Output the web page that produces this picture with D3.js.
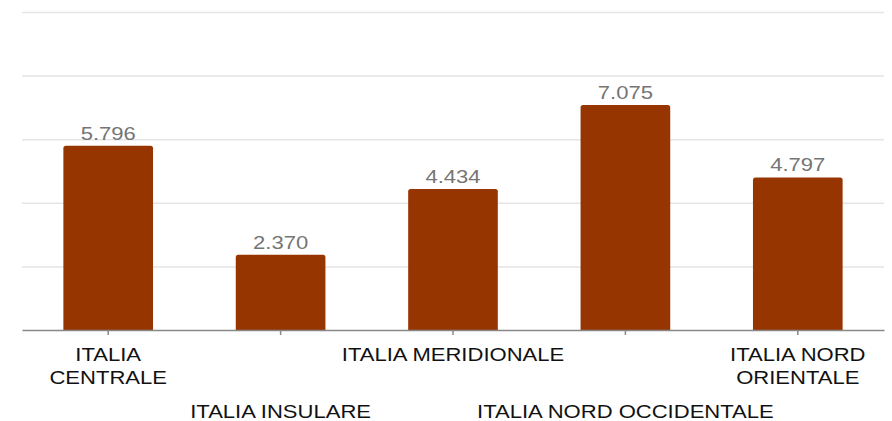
<!DOCTYPE html>
<html>
<head>
<meta charset="utf-8">
<script src="https://cdn.jsdelivr.net/npm/d3@7"></script>
<style>
  body { margin: 0; background: #fff; }
  .grid line { stroke: #e5e5e5; stroke-width: 1.5; }
  .grid path { display: none; }
  text { font-family: "Liberation Sans", Arial, sans-serif; }
</style>
</head>
<body>
<div class="chart"></div>
<script>
const categories = ["ITALIA CENTRALE", "ITALIA INSULARE", "ITALIA MERIDIONALE", "ITALIA NORD OCCIDENTALE", "ITALIA NORD ORIENTALE"];
const labelLines = [["ITALIA", "CENTRALE"], ["ITALIA INSULARE"], ["ITALIA MERIDIONALE"], ["ITALIA NORD OCCIDENTALE"], ["ITALIA NORD", "ORIENTALE"]];
const values = [5.796, 2.370, 4.434, 7.075, 4.797];
const valueLabels = ["5.796", "2.370", "4.434", "7.075", "4.797"];
const yTicks = [0, 2, 4, 6, 8, 10];

const W = 892, H = 421;
const margin = { top: 12, right: 8, bottom: 91, left: 22 };
const width = W - margin.left - margin.right;
const height = H - margin.top - margin.bottom;
const stretch = 1.16; // text in the original is drawn a bit wider

const svg = d3.select(".chart").append("svg")
  .attr("width", W).attr("height", H)
  .append("g")
  .attr("transform", `translate(${margin.left},${margin.top})`);

const x = d3.scaleBand().domain(categories).range([0, width]).paddingInner(0.48).paddingOuter(0.24);
const y = d3.scaleLinear().domain([0, 10]).range([height, 0]);

svg.append("g").attr("class", "grid")
  .call(d3.axisLeft(y).tickValues(yTicks.slice(1)).tickSize(-width).tickFormat(""));

const r = 2.5;
svg.selectAll(".bar").data(values).enter().append("path")
  .attr("fill", "#963500")
  .attr("d", (d, i) => {
    const x0 = x(categories[i]), x1 = x0 + x.bandwidth();
    const yt = y(d), yb = y(0);
    return `M${x0},${yb}V${yt + r}Q${x0},${yt} ${x0 + r},${yt}H${x1 - r}Q${x1},${yt} ${x1},${yt + r}V${yb}Z`;
  });

svg.selectAll(".val").data(values).enter().append("text")
  .attr("transform", (d, i) => `translate(${x(categories[i]) + x.bandwidth() / 2},${y(d) - 6}) scale(${stretch},1)`)
  .attr("text-anchor", "middle")
  .attr("font-size", 19)
  .attr("fill", "#757575")
  .text((d, i) => valueLabels[i]);

const xAxis = svg.append("g").attr("transform", `translate(0,${height})`)
  .call(d3.axisBottom(x).tickSize(5).tickSizeOuter(0).tickFormat(""));
xAxis.select(".domain").attr("stroke", "#888").attr("stroke-width", 1.5);
xAxis.selectAll(".tick line").attr("stroke", "#888").attr("stroke-width", 1.5);

categories.forEach((c, i) => {
  const cx = x(c) + x.bandwidth() / 2;
  const base = i % 2 === 0 ? 31 : 88;
  const t = svg.append("text")
    .attr("transform", `translate(${cx},${height + base}) scale(${stretch},1)`)
    .attr("text-anchor", "middle")
    .attr("font-size", 19)
    .attr("fill", "#111");
  labelLines[i].forEach((l, k) => {
    t.append("tspan").attr("x", 0).attr("dy", k === 0 ? 0 : 23).text(l);
  });
});
</script>
</body>
</html>
